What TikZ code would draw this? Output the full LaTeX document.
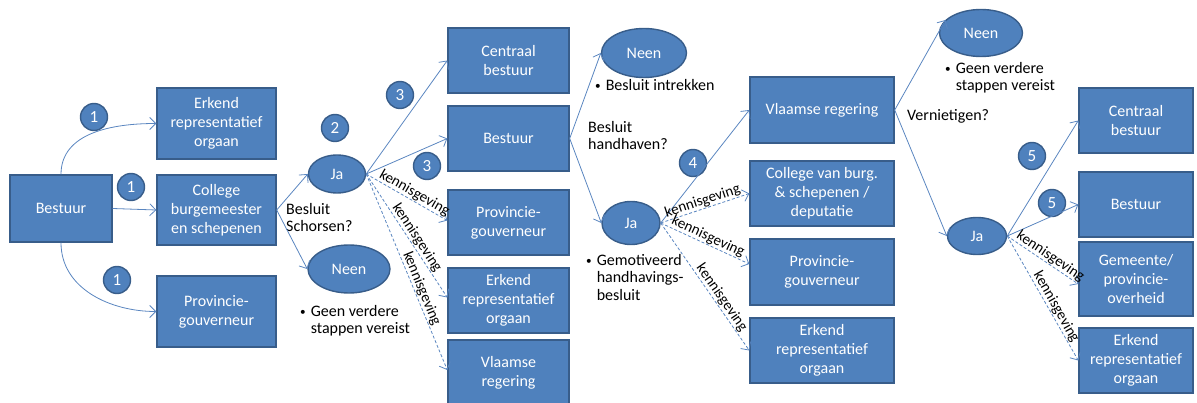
\documentclass[tikz,border=0pt]{standalone}
\usepackage{fontspec}
\setmainfont{Carlito}
\usetikzlibrary{arrows.meta,shapes.geometric}
\definecolor{boxfill}{HTML}{4F81BD}
\definecolor{boxdraw}{HTML}{385D8A}
\definecolor{linec}{HTML}{5A86C0}
\newcommand{\bul}{\raisebox{1pt}{\scalebox{0.7}{\textbullet}}\hspace{5pt}}
\newcommand{\nobul}{\phantom{\scalebox{0.7}{\textbullet}}\hspace{5pt}}
\begin{document}
\begin{tikzpicture}[x=1pt,y=-1pt,
  box/.style={rectangle, draw=boxdraw, fill=boxfill, line width=1.4pt, text=white, align=center,
    font=\fontsize{16}{19}\selectfont, inner sep=0pt},
  oval/.style={ellipse, draw=boxdraw, fill=boxfill, line width=1.4pt, text=white,
    font=\fontsize{16}{19}\selectfont, inner sep=0pt},
  num/.style={circle, draw=boxdraw, fill=boxfill, line width=1.4pt, text=white, minimum size=27pt,
    inner sep=0pt, font=\fontsize{17}{19}\selectfont},
  conn/.style={draw=linec, line width=0.8pt, -{Straight Barb[length=6pt,width=12pt]}},
  notif/.style={conn, dashed, dash pattern=on 3pt off 2pt},
  lbl/.style={font=\fontsize{15}{17}\selectfont, text=black, sloped, above, inner sep=0.5pt},
  txt/.style={font=\fontsize{16}{17.5}\selectfont, align=left, anchor=north west, inner sep=0pt, text=black}]
\useasboundingbox (0,0) rectangle (1197,403);

% column 0/1
\node[box, minimum width=102pt, minimum height=67pt] (b0) at (61,208.5) {Bestuur};
\node[box, minimum width=119pt, minimum height=71pt] (e1) at (216.5,123.5) {Erkend\\representatief\\orgaan};
\node[box, minimum width=119pt, minimum height=70pt] (c1) at (216.5,210) {College\\burgemeester\\en schepenen};
\node[box, minimum width=119pt, minimum height=71pt] (p1) at (216.5,311.5) {Provincie-\\gouverneur};
\node[num] (n1a) at (94,117) {1};
\node[num] (n1b) at (131,187) {1};
\node[num] (n1c) at (117,280) {1};

% stage 2
\node[oval, minimum width=57pt, minimum height=38pt] (ja1) at (337,174) {Ja};
\node[oval, minimum width=82pt, minimum height=48pt] (neen1) at (349,269) {Neen};
\node[num] (n2) at (335,128) {2};
\node[num] (n3a) at (400,95) {3};
\node[num] (n3b) at (427,166) {3};
\node[txt] (t1) at (286,203) {Besluit\\Schorsen?};
\node[txt] (t2) at (300,305) {\bul Geen verdere\\\nobul stappen vereist};

% column 2
\node[box, minimum width=121pt, minimum height=65pt] (cb2) at (508.5,60.5) {Centraal\\bestuur};
\node[box, minimum width=121pt, minimum height=65pt] (b2) at (508.5,138.5) {Bestuur};
\node[box, minimum width=121pt, minimum height=65pt] (pg2) at (508.5,222.5) {Provincie-\\gouverneur};
\node[box, minimum width=121pt, minimum height=65pt] (er2) at (508.5,300.5) {Erkend\\representatief\\orgaan};
\node[box, minimum width=121pt, minimum height=66pt] (vr2) at (508.5,373) {Vlaamse\\regering};

% stage 3
\node[oval, minimum width=85pt, minimum height=49pt] (neen2) at (644,53) {Neen};
\node[oval, minimum width=58pt, minimum height=43pt] (ja2) at (631,223) {Ja};
\node[num] (n4) at (693,163) {4};
\node[txt] (t3) at (595,79) {\bul Besluit intrekken};
\node[txt] (t4) at (588,121) {Besluit\\handhaven?};
\node[txt] (t5) at (586,254) {\bul Gemotiveerd\\\nobul handhavings-\\\nobul besluit};

% column 3
\node[box, minimum width=144pt, minimum height=66pt] (vr3) at (822,110) {Vlaamse regering};
\node[box, minimum width=144pt, minimum height=65pt] (cv3) at (822,193.5) {College van burg.\\\& schepenen /\\deputatie};
\node[box, minimum width=144pt, minimum height=66pt] (pg3) at (822,272) {Provincie-\\gouverneur};
\node[box, minimum width=144pt, minimum height=65pt] (er3) at (822,350.5) {Erkend\\representatief\\orgaan};

% stage 4
\node[oval, minimum width=83pt, minimum height=47pt] (neen3) at (981,33) {Neen};
\node[oval, minimum width=59pt, minimum height=37pt] (ja3) at (977,236) {Ja};
\node[num] (n5a) at (1032,156) {5};
\node[num] (n5b) at (1052,203) {5};
\node[txt] (t6) at (945,62) {\bul Geen verdere\\\nobul stappen vereist};
\node[txt] (t7) at (907,109) {Vernietigen?};

% column 4
\node[box, minimum width=114pt, minimum height=65pt] (cb4) at (1136,120.5) {Centraal\\bestuur};
\node[box, minimum width=114pt, minimum height=65pt] (b4) at (1136,204.5) {Bestuur};
\node[box, minimum width=114pt, minimum height=74pt] (gm4) at (1136,279) {Gemeente/\\provincie-\\overheid};
\node[box, minimum width=114pt, minimum height=65pt] (er4) at (1136,360.5) {Erkend\\representatief\\orgaan};

% connectors stage 1
\draw[conn] (b0.north) to[out=90,in=180] (e1.west);
\draw[conn] (b0.east) -- (c1.west);
\draw[conn] (b0.south) to[out=-90,in=180] (p1.west);

% stage 2
\draw[conn] (c1.east) -- (ja1.west);
\draw[conn] (c1.east) -- (neen1.west);
\draw[conn] (ja1.east) -- (cb2.west);
\draw[conn] (ja1.east) -- (b2.west);
\draw[notif] (ja1.east) -- node[lbl, pos=0.55] {kennisgeving} ([yshift=2pt]pg2.west);
\draw[notif] (ja1.east) -- node[lbl, pos=0.55] {kennisgeving} ([yshift=3pt]er2.west);
\draw[notif] (ja1.east) -- node[lbl, pos=0.6] {kennisgeving} ([yshift=3pt]vr2.west);

% stage 3
\draw[conn] (b2.east) -- (neen2.west);
\draw[conn] (b2.east) -- (ja2.west);
\draw[conn] (ja2.east) -- (vr3.west);
\draw[notif] (ja2.east) -- node[lbl, pos=0.5] {kennisgeving} (cv3.west);
\draw[notif] (ja2.east) -- node[lbl, pos=0.5] {kennisgeving} ([yshift=8pt]pg3.west);
\draw[notif] (ja2.east) -- node[lbl, pos=0.62] {kennisgeving} (er3.west);

% stage 4
\draw[conn] (vr3.east) -- (neen3.160);
\draw[conn] (vr3.east) -- (ja3.west);
\draw[conn] (ja3.east) -- (cb4.west);
\draw[conn] (ja3.east) -- (b4.west);
\draw[notif] (ja3.east) -- node[lbl, pos=0.55] {kennisgeving} ([yshift=-5pt]gm4.west);
\draw[notif] (ja3.east) -- node[lbl, pos=0.6] {kennisgeving} (er4.west);
\end{tikzpicture}
\end{document}
